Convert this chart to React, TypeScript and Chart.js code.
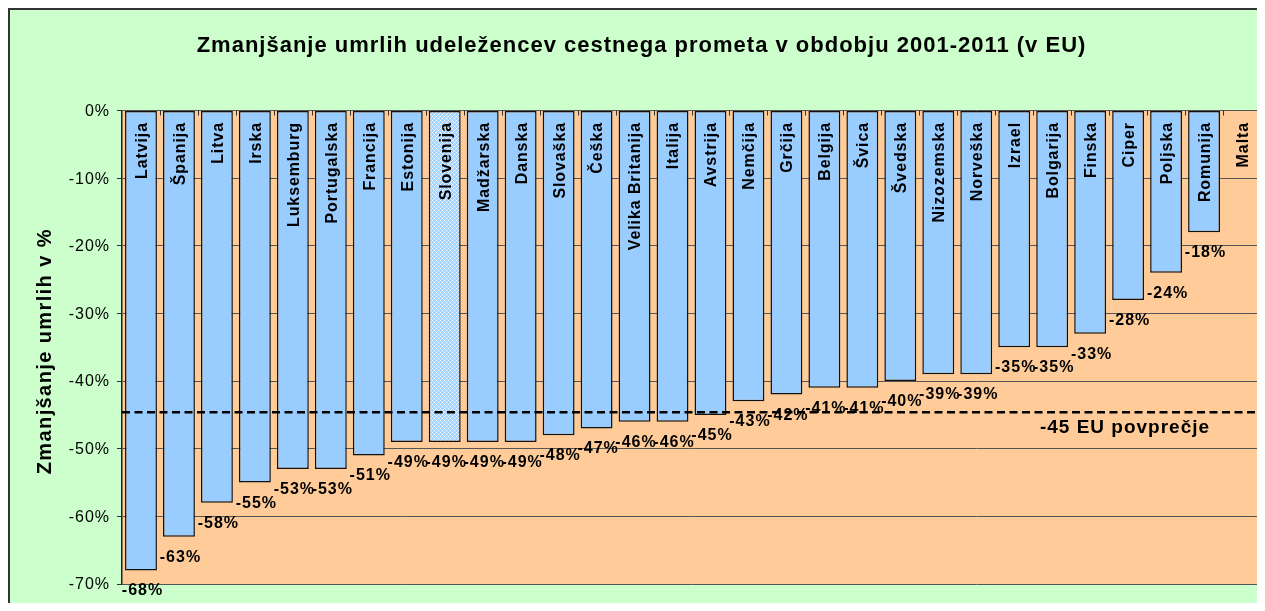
import React, { useEffect, useRef } from "react";
import { Chart, registerables } from "chart.js";

Chart.register(...registerables);

const titleText = "Zmanjšanje umrlih udeležencev cestnega prometa v obdobju 2001-2011 (v EU)";
const yAxisTitle = "Zmanjšanje umrlih v %";
const avgLabel = "-45 EU povprečje";

const categories = [
  "Latvija", "Španija", "Litva", "Irska", "Luksemburg", "Portugalska", "Francija",
  "Estonija", "Slovenija", "Madžarska", "Danska", "Slovaška", "Češka",
  "Velika Britanija", "Italija", "Avstrija", "Nemčija", "Grčija", "Belgija",
  "Švica", "Švedska", "Nizozemska", "Norveška", "Izrael", "Bolgarija", "Finska",
  "Ciper", "Poljska", "Romunija", "Malta",
];

const values = [
  -68, -63, -58, -55, -53, -53, -51, -49, -49, -49, -49, -48, -47, -46, -46, -45,
  -43, -42, -41, -41, -40, -39, -39, -35, -35, -33, -28, -24, -18, 0,
];

const euAverage = -44.6;
const yTicks = [0, -10, -20, -30, -40, -50, -60, -70];

const FONT = '"Liberation Sans", Arial, Helvetica, sans-serif';

function makePattern(): CanvasPattern | string {
  const c = document.createElement("canvas");
  c.width = 4;
  c.height = 4;
  const g = c.getContext("2d");
  if (!g) return "#99ccff";
  g.fillStyle = "#a3d1ff";
  g.fillRect(0, 0, 4, 4);
  g.fillStyle = "#ffffff";
  g.fillRect(0, 0, 1, 1);
  g.fillRect(2, 2, 1, 1);
  g.fillStyle = "#d9ecff";
  g.fillRect(1, 1, 1, 1);
  g.fillRect(3, 3, 1, 1);
  g.fillRect(1, 3, 1, 1);
  g.fillRect(3, 1, 1, 1);
  const p = g.createPattern(c, "repeat");
  return p || "#99ccff";
}

const customPlugin = {
  id: "customDraw",
  beforeDraw(chart: any) {
    const { ctx, chartArea: a } = chart;
    ctx.save();
    ctx.fillStyle = "#ffcc99";
    ctx.fillRect(a.left, a.top, a.right - a.left, a.bottom - a.top);
    ctx.restore();
  },
  afterDatasetsDraw(chart: any) {
    const { ctx, chartArea: a, scales } = chart;
    const x = scales.x;
    const y = scales.y;
    ctx.save();
    // small tick marks at category boundaries along the top (0%) axis
    ctx.strokeStyle = "#333";
    ctx.lineWidth = 1;
    for (let i = 1; i < categories.length; i++) {
      const bx = Math.round((x.getPixelForValue(i - 1) + x.getPixelForValue(i)) / 2) + 0.5;
      ctx.beginPath();
      ctx.moveTo(bx, a.top);
      ctx.lineTo(bx, a.top + 5);
      ctx.stroke();
    }
    // EU average dashed line
    const ay = y.getPixelForValue(euAverage);
    ctx.strokeStyle = "#000";
    ctx.lineWidth = 2.5;
    ctx.setLineDash([8, 4.5]);
    ctx.beginPath();
    ctx.moveTo(a.left, ay);
    ctx.lineTo(a.right - 3, ay);
    ctx.stroke();
    ctx.setLineDash([]);

    ctx.fillStyle = "#000";

    // y tick labels
    ctx.font = `16px ${FONT}`;
    ctx.letterSpacing = "1px";
    ctx.textAlign = "right";
    ctx.textBaseline = "middle";
    yTicks.forEach((t) => {
      ctx.fillText(`${t}%`, a.left - 12, y.getPixelForValue(t) + 1);
    });

    // category labels inside bars (rotated)
    ctx.font = `bold 16px ${FONT}`;
    ctx.letterSpacing = "0.9px";
    ctx.textAlign = "right";
    ctx.textBaseline = "middle";
    categories.forEach((c, i) => {
      const cx = x.getPixelForValue(i);
      ctx.save();
      ctx.translate(cx + 1.5, a.top + 11.5);
      ctx.rotate(-Math.PI / 2);
      ctx.fillText(c, 0, 0);
      ctx.restore();
    });

    // value labels below bar ends
    ctx.font = `bold 16px ${FONT}`;
    ctx.letterSpacing = "1px";
    ctx.textAlign = "center";
    ctx.textBaseline = "alphabetic";
    values.forEach((v, i) => {
      if (!v) return;
      ctx.fillText(`${v}%`, x.getPixelForValue(i) + 1.5, y.getPixelForValue(v) + 25);
    });

    // average label
    ctx.font = `bold 19px ${FONT}`;
    ctx.letterSpacing = "1px";
    ctx.textAlign = "center";
    ctx.fillText(avgLabel, a.right - 136, ay + 21);
    ctx.restore();
  },
  afterDraw(chart: any) {
    const { ctx, chartArea: a } = chart;
    ctx.save();
    ctx.fillStyle = "#000";
    // title
    ctx.font = `bold 22px ${FONT}`;
    ctx.letterSpacing = "1px";
    ctx.textAlign = "center";
    ctx.textBaseline = "alphabetic";
    ctx.fillText(titleText, chart.width / 2 + 4, 42);
    // y axis title
    ctx.font = `bold 20px ${FONT}`;
    ctx.letterSpacing = "1.4px";
    ctx.textBaseline = "middle";
    ctx.translate(35, (a.top + a.bottom) / 2 + 4);
    ctx.rotate(-Math.PI / 2);
    ctx.fillText(yAxisTitle, 0, 0);
    ctx.restore();
    ctx.letterSpacing = "0px";
  },
};

export default function App() {
  const canvasRef = useRef<HTMLCanvasElement | null>(null);

  useEffect(() => {
    const canvas = canvasRef.current;
    if (!canvas) return;
    const pattern = makePattern();
    const colors = categories.map((c) => (c === "Slovenija" ? pattern : "#99ccff"));

    const chart = new Chart(canvas, {
      type: "bar",
      data: {
        labels: categories,
        datasets: [
          {
            data: values,
            backgroundColor: colors as any,
            borderColor: "#111",
            borderWidth: 1.5,
            borderSkipped: false,
            barPercentage: 0.84,
            categoryPercentage: 1,
          },
        ],
      },
      options: {
        responsive: false,
        animation: false,
        events: [],
        layout: { padding: { top: 100.5, bottom: 27, left: 0, right: 4 } },
        plugins: {
          legend: { display: false },
          title: { display: false },
          tooltip: { enabled: false },
        },
        scales: {
          x: { display: false, offset: true },
          y: {
            min: yTicks[yTicks.length - 1],
            max: yTicks[0],
            afterFit: (scale: any) => {
              scale.width = 112;
            },
            afterBuildTicks: (scale: any) => {
              scale.ticks = yTicks.map((v) => ({ value: v }));
            },
            ticks: {
              color: "rgba(0,0,0,0)",
              padding: 7.5,
              font: { family: FONT, size: 15 },
              callback: (v: any) => `${v}%`,
            },
            grid: {
              color: "#555",
              lineWidth: 1,
              tickLength: 5,
              tickColor: "#333",
              drawTicks: true,
            },
            border: { display: true, color: "#222", width: 1.5 },
          },
        },
      },
      plugins: [customPlugin],
    });
    return () => chart.destroy();
  }, []);

  return (
    <div style={{ width: 1249, height: 595 }}>
      <div
        style={{
          width: 1257,
          height: 603,
          boxSizing: "border-box",
          borderLeft: "2px solid #333",
          borderTop: "2px solid #333",
          background: "#ccffcc",
        }}
      >
        <canvas ref={canvasRef} width={1255} height={601} style={{ display: "block" }} />
      </div>
    </div>
  );
}
